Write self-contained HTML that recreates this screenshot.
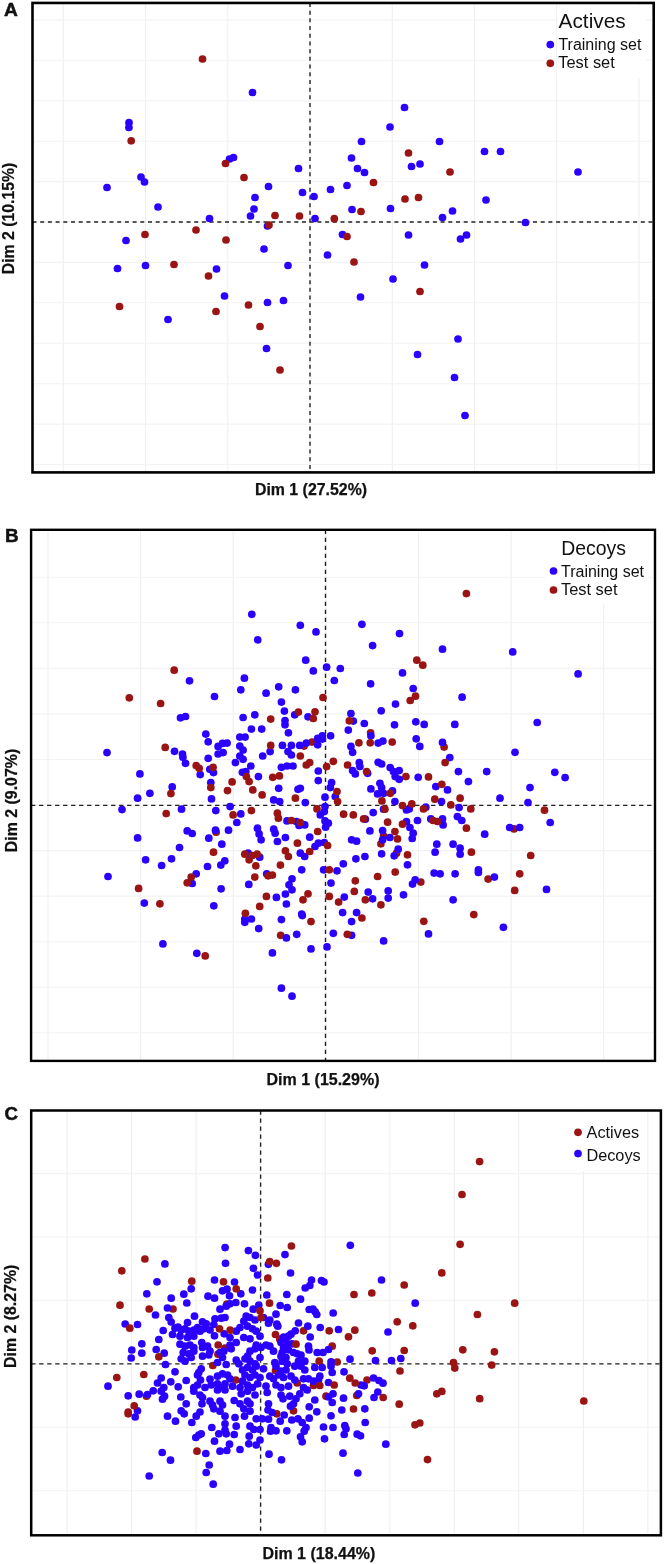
<!DOCTYPE html>
<html><head><meta charset="utf-8"><title>PCA scatter plots</title>
<style>html,body{margin:0;padding:0;background:#fff}svg{display:block}</style></head>
<body>
<svg width="664" height="1564" viewBox="0 0 664 1564">
<rect width="664" height="1564" fill="#fff"/>
<line x1="63.3" y1="2.95" x2="63.3" y2="472.4" stroke="#efefef" stroke-width="1.1"/>
<line x1="145.5" y1="2.95" x2="145.5" y2="472.4" stroke="#efefef" stroke-width="1.1"/>
<line x1="227.8" y1="2.95" x2="227.8" y2="472.4" stroke="#efefef" stroke-width="1.1"/>
<line x1="310.0" y1="2.95" x2="310.0" y2="472.4" stroke="#efefef" stroke-width="1.1"/>
<line x1="392.3" y1="2.95" x2="392.3" y2="472.4" stroke="#efefef" stroke-width="1.1"/>
<line x1="474.5" y1="2.95" x2="474.5" y2="472.4" stroke="#efefef" stroke-width="1.1"/>
<line x1="556.7" y1="2.95" x2="556.7" y2="472.4" stroke="#efefef" stroke-width="1.1"/>
<line x1="639.0" y1="2.95" x2="639.0" y2="472.4" stroke="#efefef" stroke-width="1.1"/>
<line x1="32.5" y1="19.9" x2="653.7" y2="19.9" stroke="#f3f3f3" stroke-width="1.1"/>
<line x1="32.5" y1="60.3" x2="653.7" y2="60.3" stroke="#f3f3f3" stroke-width="1.1"/>
<line x1="32.5" y1="100.7" x2="653.7" y2="100.7" stroke="#f3f3f3" stroke-width="1.1"/>
<line x1="32.5" y1="141.2" x2="653.7" y2="141.2" stroke="#f3f3f3" stroke-width="1.1"/>
<line x1="32.5" y1="181.6" x2="653.7" y2="181.6" stroke="#f3f3f3" stroke-width="1.1"/>
<line x1="32.5" y1="222.0" x2="653.7" y2="222.0" stroke="#f3f3f3" stroke-width="1.1"/>
<line x1="32.5" y1="262.4" x2="653.7" y2="262.4" stroke="#f3f3f3" stroke-width="1.1"/>
<line x1="32.5" y1="302.8" x2="653.7" y2="302.8" stroke="#f3f3f3" stroke-width="1.1"/>
<line x1="32.5" y1="343.3" x2="653.7" y2="343.3" stroke="#f3f3f3" stroke-width="1.1"/>
<line x1="32.5" y1="383.7" x2="653.7" y2="383.7" stroke="#f3f3f3" stroke-width="1.1"/>
<line x1="32.5" y1="424.1" x2="653.7" y2="424.1" stroke="#f3f3f3" stroke-width="1.1"/>
<line x1="32.5" y1="464.5" x2="653.7" y2="464.5" stroke="#f3f3f3" stroke-width="1.1"/>
<line x1="32.5" y1="222" x2="653.7" y2="222" stroke="#222" stroke-width="1.4" stroke-dasharray="4 3.7"/>
<line x1="310" y1="2.95" x2="310" y2="472.4" stroke="#222" stroke-width="1.4" stroke-dasharray="4 3.7"/>
<circle cx="252.5" cy="92.5" r="3.85" fill="#2a00ff"/>
<circle cx="129.0" cy="122.7" r="3.85" fill="#2a00ff"/>
<circle cx="128.9" cy="127.5" r="3.85" fill="#2a00ff"/>
<circle cx="233.5" cy="157.5" r="3.85" fill="#2a00ff"/>
<circle cx="229.5" cy="159.0" r="3.85" fill="#2a00ff"/>
<circle cx="298.5" cy="168.5" r="3.85" fill="#2a00ff"/>
<circle cx="141.0" cy="177.0" r="3.85" fill="#2a00ff"/>
<circle cx="144.5" cy="182.0" r="3.85" fill="#2a00ff"/>
<circle cx="107.0" cy="187.5" r="3.85" fill="#2a00ff"/>
<circle cx="268.5" cy="186.5" r="3.85" fill="#2a00ff"/>
<circle cx="302.5" cy="192.5" r="3.85" fill="#2a00ff"/>
<circle cx="314.0" cy="196.5" r="3.85" fill="#2a00ff"/>
<circle cx="330.5" cy="189.5" r="3.85" fill="#2a00ff"/>
<circle cx="255.0" cy="197.5" r="3.85" fill="#2a00ff"/>
<circle cx="158.0" cy="207.0" r="3.85" fill="#2a00ff"/>
<circle cx="254.0" cy="209.0" r="3.85" fill="#2a00ff"/>
<circle cx="250.5" cy="216.0" r="3.85" fill="#2a00ff"/>
<circle cx="209.5" cy="218.5" r="3.85" fill="#2a00ff"/>
<circle cx="315.0" cy="218.5" r="3.85" fill="#2a00ff"/>
<circle cx="267.5" cy="226.0" r="3.85" fill="#2a00ff"/>
<circle cx="126.0" cy="240.5" r="3.85" fill="#2a00ff"/>
<circle cx="264.0" cy="249.0" r="3.85" fill="#2a00ff"/>
<circle cx="404.5" cy="107.5" r="3.85" fill="#2a00ff"/>
<circle cx="390.0" cy="127.0" r="3.85" fill="#2a00ff"/>
<circle cx="361.5" cy="141.5" r="3.85" fill="#2a00ff"/>
<circle cx="439.5" cy="141.5" r="3.85" fill="#2a00ff"/>
<circle cx="484.5" cy="151.5" r="3.85" fill="#2a00ff"/>
<circle cx="500.5" cy="151.5" r="3.85" fill="#2a00ff"/>
<circle cx="351.5" cy="158.0" r="3.85" fill="#2a00ff"/>
<circle cx="420.0" cy="164.0" r="3.85" fill="#2a00ff"/>
<circle cx="411.5" cy="166.5" r="3.85" fill="#2a00ff"/>
<circle cx="357.5" cy="168.5" r="3.85" fill="#2a00ff"/>
<circle cx="364.5" cy="172.5" r="3.85" fill="#2a00ff"/>
<circle cx="578.0" cy="172.0" r="3.85" fill="#2a00ff"/>
<circle cx="347.0" cy="185.5" r="3.85" fill="#2a00ff"/>
<circle cx="486.0" cy="200.0" r="3.85" fill="#2a00ff"/>
<circle cx="352.0" cy="209.5" r="3.85" fill="#2a00ff"/>
<circle cx="390.5" cy="208.5" r="3.85" fill="#2a00ff"/>
<circle cx="452.5" cy="211.0" r="3.85" fill="#2a00ff"/>
<circle cx="442.5" cy="217.5" r="3.85" fill="#2a00ff"/>
<circle cx="525.5" cy="222.5" r="3.85" fill="#2a00ff"/>
<circle cx="342.5" cy="234.5" r="3.85" fill="#2a00ff"/>
<circle cx="408.5" cy="235.0" r="3.85" fill="#2a00ff"/>
<circle cx="466.5" cy="235.0" r="3.85" fill="#2a00ff"/>
<circle cx="460.5" cy="239.0" r="3.85" fill="#2a00ff"/>
<circle cx="327.5" cy="255.0" r="3.85" fill="#2a00ff"/>
<circle cx="117.5" cy="268.5" r="3.85" fill="#2a00ff"/>
<circle cx="145.5" cy="265.5" r="3.85" fill="#2a00ff"/>
<circle cx="216.5" cy="269.0" r="3.85" fill="#2a00ff"/>
<circle cx="288.0" cy="265.5" r="3.85" fill="#2a00ff"/>
<circle cx="224.5" cy="296.0" r="3.85" fill="#2a00ff"/>
<circle cx="267.5" cy="302.5" r="3.85" fill="#2a00ff"/>
<circle cx="283.5" cy="300.5" r="3.85" fill="#2a00ff"/>
<circle cx="168.0" cy="319.5" r="3.85" fill="#2a00ff"/>
<circle cx="266.5" cy="348.5" r="3.85" fill="#2a00ff"/>
<circle cx="424.5" cy="265.0" r="3.85" fill="#2a00ff"/>
<circle cx="393.0" cy="279.0" r="3.85" fill="#2a00ff"/>
<circle cx="360.5" cy="297.0" r="3.85" fill="#2a00ff"/>
<circle cx="458.0" cy="339.0" r="3.85" fill="#2a00ff"/>
<circle cx="417.5" cy="354.5" r="3.85" fill="#2a00ff"/>
<circle cx="454.5" cy="377.5" r="3.85" fill="#2a00ff"/>
<circle cx="465.0" cy="415.5" r="3.85" fill="#2a00ff"/>
<circle cx="202.5" cy="59.0" r="3.85" fill="#9b1414"/>
<circle cx="131.2" cy="140.8" r="3.85" fill="#9b1414"/>
<circle cx="225.5" cy="163.5" r="3.85" fill="#9b1414"/>
<circle cx="244.0" cy="177.5" r="3.85" fill="#9b1414"/>
<circle cx="275.0" cy="215.5" r="3.85" fill="#9b1414"/>
<circle cx="299.5" cy="216.0" r="3.85" fill="#9b1414"/>
<circle cx="269.0" cy="225.0" r="3.85" fill="#9b1414"/>
<circle cx="145.0" cy="234.5" r="3.85" fill="#9b1414"/>
<circle cx="196.0" cy="230.0" r="3.85" fill="#9b1414"/>
<circle cx="226.0" cy="240.0" r="3.85" fill="#9b1414"/>
<circle cx="334.3" cy="218.7" r="3.85" fill="#9b1414"/>
<circle cx="408.5" cy="153.0" r="3.85" fill="#9b1414"/>
<circle cx="450.0" cy="172.0" r="3.85" fill="#9b1414"/>
<circle cx="373.5" cy="182.5" r="3.85" fill="#9b1414"/>
<circle cx="405.0" cy="199.0" r="3.85" fill="#9b1414"/>
<circle cx="418.5" cy="197.5" r="3.85" fill="#9b1414"/>
<circle cx="361.0" cy="211.5" r="3.85" fill="#9b1414"/>
<circle cx="347.0" cy="236.5" r="3.85" fill="#9b1414"/>
<circle cx="174.0" cy="264.5" r="3.85" fill="#9b1414"/>
<circle cx="208.5" cy="276.0" r="3.85" fill="#9b1414"/>
<circle cx="119.5" cy="306.5" r="3.85" fill="#9b1414"/>
<circle cx="216.0" cy="311.5" r="3.85" fill="#9b1414"/>
<circle cx="248.5" cy="305.0" r="3.85" fill="#9b1414"/>
<circle cx="260.0" cy="326.5" r="3.85" fill="#9b1414"/>
<circle cx="280.0" cy="370.0" r="3.85" fill="#9b1414"/>
<circle cx="354.0" cy="262.0" r="3.85" fill="#9b1414"/>
<circle cx="420.0" cy="291.5" r="3.85" fill="#9b1414"/>
<rect x="557.5" y="5.5" width="88" height="73" fill="#fff"/>
<rect x="32.5" y="2.95" width="621.2" height="469.45" fill="none" stroke="#000" stroke-width="2.6"/>
<line x1="48.0" y1="529.8" x2="48.0" y2="1060.9" stroke="#efefef" stroke-width="1.1"/>
<line x1="140.6" y1="529.8" x2="140.6" y2="1060.9" stroke="#efefef" stroke-width="1.1"/>
<line x1="233.2" y1="529.8" x2="233.2" y2="1060.9" stroke="#efefef" stroke-width="1.1"/>
<line x1="325.9" y1="529.8" x2="325.9" y2="1060.9" stroke="#efefef" stroke-width="1.1"/>
<line x1="418.5" y1="529.8" x2="418.5" y2="1060.9" stroke="#efefef" stroke-width="1.1"/>
<line x1="511.1" y1="529.8" x2="511.1" y2="1060.9" stroke="#efefef" stroke-width="1.1"/>
<line x1="603.7" y1="529.8" x2="603.7" y2="1060.9" stroke="#efefef" stroke-width="1.1"/>
<line x1="31.1" y1="577.3" x2="655.0" y2="577.3" stroke="#f3f3f3" stroke-width="1.1"/>
<line x1="31.1" y1="622.8" x2="655.0" y2="622.8" stroke="#f3f3f3" stroke-width="1.1"/>
<line x1="31.1" y1="668.4" x2="655.0" y2="668.4" stroke="#f3f3f3" stroke-width="1.1"/>
<line x1="31.1" y1="713.9" x2="655.0" y2="713.9" stroke="#f3f3f3" stroke-width="1.1"/>
<line x1="31.1" y1="759.5" x2="655.0" y2="759.5" stroke="#f3f3f3" stroke-width="1.1"/>
<line x1="31.1" y1="805.0" x2="655.0" y2="805.0" stroke="#f3f3f3" stroke-width="1.1"/>
<line x1="31.1" y1="850.6" x2="655.0" y2="850.6" stroke="#f3f3f3" stroke-width="1.1"/>
<line x1="31.1" y1="896.1" x2="655.0" y2="896.1" stroke="#f3f3f3" stroke-width="1.1"/>
<line x1="31.1" y1="941.7" x2="655.0" y2="941.7" stroke="#f3f3f3" stroke-width="1.1"/>
<line x1="31.1" y1="987.2" x2="655.0" y2="987.2" stroke="#f3f3f3" stroke-width="1.1"/>
<line x1="31.1" y1="1032.8" x2="655.0" y2="1032.8" stroke="#f3f3f3" stroke-width="1.1"/>
<line x1="31.1" y1="805.4" x2="655.0" y2="805.4" stroke="#222" stroke-width="1.4" stroke-dasharray="4.3 3.7"/>
<line x1="325.5" y1="529.8" x2="325.5" y2="1060.9" stroke="#222" stroke-width="1.4" stroke-dasharray="4.3 3.7"/>
<circle cx="129.3" cy="697.8" r="3.85" fill="#9b1414"/>
<circle cx="160.6" cy="703.5" r="3.85" fill="#9b1414"/>
<circle cx="304.0" cy="746.1" r="3.85" fill="#9b1414"/>
<circle cx="422.8" cy="665.2" r="3.85" fill="#9b1414"/>
<circle cx="415.5" cy="696.2" r="3.85" fill="#9b1414"/>
<circle cx="370.6" cy="732.8" r="3.85" fill="#9b1414"/>
<circle cx="312.0" cy="742.1" r="3.85" fill="#9b1414"/>
<circle cx="444.1" cy="747.1" r="3.85" fill="#9b1414"/>
<circle cx="216.1" cy="832.2" r="3.85" fill="#9b1414"/>
<circle cx="252.8" cy="789.9" r="3.85" fill="#9b1414"/>
<circle cx="262.1" cy="794.9" r="3.85" fill="#9b1414"/>
<circle cx="249.1" cy="859.8" r="3.85" fill="#9b1414"/>
<circle cx="254.8" cy="877.1" r="3.85" fill="#9b1414"/>
<circle cx="300.3" cy="756.0" r="3.85" fill="#9b1414"/>
<circle cx="306.3" cy="765.0" r="3.85" fill="#9b1414"/>
<circle cx="277.4" cy="813.2" r="3.85" fill="#9b1414"/>
<circle cx="308.0" cy="893.8" r="3.85" fill="#9b1414"/>
<circle cx="317.0" cy="808.9" r="3.85" fill="#9b1414"/>
<circle cx="338.6" cy="902.1" r="3.85" fill="#9b1414"/>
<circle cx="343.6" cy="814.2" r="3.85" fill="#9b1414"/>
<circle cx="347.6" cy="765.0" r="3.85" fill="#9b1414"/>
<circle cx="381.9" cy="800.9" r="3.85" fill="#9b1414"/>
<circle cx="383.6" cy="835.9" r="3.85" fill="#9b1414"/>
<circle cx="380.9" cy="843.8" r="3.85" fill="#9b1414"/>
<circle cx="396.5" cy="853.2" r="3.85" fill="#9b1414"/>
<circle cx="407.5" cy="854.8" r="3.85" fill="#9b1414"/>
<circle cx="377.6" cy="876.5" r="3.85" fill="#9b1414"/>
<circle cx="405.9" cy="776.6" r="3.85" fill="#9b1414"/>
<circle cx="471.4" cy="852.2" r="3.85" fill="#9b1414"/>
<circle cx="420.8" cy="882.1" r="3.85" fill="#9b1414"/>
<circle cx="488.1" cy="879.1" r="3.85" fill="#9b1414"/>
<circle cx="514.0" cy="828.9" r="3.85" fill="#9b1414"/>
<circle cx="514.7" cy="890.4" r="3.85" fill="#9b1414"/>
<circle cx="280.7" cy="935.3" r="3.85" fill="#9b1414"/>
<circle cx="251.8" cy="614.3" r="3.85" fill="#2a00ff"/>
<circle cx="300.3" cy="625.3" r="3.85" fill="#2a00ff"/>
<circle cx="257.7" cy="639.9" r="3.85" fill="#2a00ff"/>
<circle cx="305.7" cy="660.2" r="3.85" fill="#2a00ff"/>
<circle cx="189.5" cy="680.8" r="3.85" fill="#2a00ff"/>
<circle cx="244.4" cy="678.2" r="3.85" fill="#2a00ff"/>
<circle cx="240.8" cy="689.8" r="3.85" fill="#2a00ff"/>
<circle cx="278.7" cy="686.8" r="3.85" fill="#2a00ff"/>
<circle cx="295.4" cy="689.8" r="3.85" fill="#2a00ff"/>
<circle cx="266.1" cy="693.2" r="3.85" fill="#2a00ff"/>
<circle cx="214.5" cy="696.5" r="3.85" fill="#2a00ff"/>
<circle cx="281.4" cy="702.1" r="3.85" fill="#2a00ff"/>
<circle cx="284.4" cy="711.1" r="3.85" fill="#2a00ff"/>
<circle cx="294.7" cy="714.8" r="3.85" fill="#2a00ff"/>
<circle cx="308.0" cy="716.8" r="3.85" fill="#2a00ff"/>
<circle cx="180.5" cy="717.8" r="3.85" fill="#2a00ff"/>
<circle cx="185.5" cy="716.5" r="3.85" fill="#2a00ff"/>
<circle cx="243.1" cy="717.5" r="3.85" fill="#2a00ff"/>
<circle cx="254.8" cy="714.8" r="3.85" fill="#2a00ff"/>
<circle cx="285.0" cy="720.5" r="3.85" fill="#2a00ff"/>
<circle cx="285.0" cy="724.8" r="3.85" fill="#2a00ff"/>
<circle cx="251.4" cy="729.1" r="3.85" fill="#2a00ff"/>
<circle cx="261.7" cy="729.1" r="3.85" fill="#2a00ff"/>
<circle cx="288.4" cy="732.8" r="3.85" fill="#2a00ff"/>
<circle cx="205.8" cy="734.1" r="3.85" fill="#2a00ff"/>
<circle cx="208.2" cy="741.8" r="3.85" fill="#2a00ff"/>
<circle cx="239.8" cy="737.1" r="3.85" fill="#2a00ff"/>
<circle cx="245.1" cy="737.1" r="3.85" fill="#2a00ff"/>
<circle cx="222.5" cy="743.4" r="3.85" fill="#2a00ff"/>
<circle cx="227.1" cy="743.1" r="3.85" fill="#2a00ff"/>
<circle cx="218.1" cy="746.4" r="3.85" fill="#2a00ff"/>
<circle cx="239.8" cy="746.1" r="3.85" fill="#2a00ff"/>
<circle cx="282.4" cy="745.4" r="3.85" fill="#2a00ff"/>
<circle cx="291.4" cy="745.4" r="3.85" fill="#2a00ff"/>
<circle cx="299.7" cy="745.4" r="3.85" fill="#2a00ff"/>
<circle cx="306.3" cy="743.1" r="3.85" fill="#2a00ff"/>
<circle cx="316.0" cy="631.9" r="3.85" fill="#2a00ff"/>
<circle cx="361.9" cy="624.3" r="3.85" fill="#2a00ff"/>
<circle cx="399.5" cy="633.6" r="3.85" fill="#2a00ff"/>
<circle cx="372.6" cy="645.6" r="3.85" fill="#2a00ff"/>
<circle cx="442.5" cy="649.2" r="3.85" fill="#2a00ff"/>
<circle cx="512.7" cy="651.9" r="3.85" fill="#2a00ff"/>
<circle cx="326.6" cy="667.2" r="3.85" fill="#2a00ff"/>
<circle cx="340.3" cy="668.5" r="3.85" fill="#2a00ff"/>
<circle cx="313.3" cy="670.9" r="3.85" fill="#2a00ff"/>
<circle cx="402.5" cy="672.9" r="3.85" fill="#2a00ff"/>
<circle cx="334.3" cy="680.5" r="3.85" fill="#2a00ff"/>
<circle cx="370.6" cy="683.8" r="3.85" fill="#2a00ff"/>
<circle cx="413.2" cy="688.5" r="3.85" fill="#2a00ff"/>
<circle cx="462.1" cy="697.2" r="3.85" fill="#2a00ff"/>
<circle cx="395.5" cy="704.1" r="3.85" fill="#2a00ff"/>
<circle cx="381.2" cy="710.8" r="3.85" fill="#2a00ff"/>
<circle cx="350.9" cy="713.5" r="3.85" fill="#2a00ff"/>
<circle cx="353.3" cy="721.1" r="3.85" fill="#2a00ff"/>
<circle cx="364.3" cy="723.5" r="3.85" fill="#2a00ff"/>
<circle cx="394.5" cy="724.8" r="3.85" fill="#2a00ff"/>
<circle cx="415.8" cy="721.8" r="3.85" fill="#2a00ff"/>
<circle cx="424.2" cy="724.4" r="3.85" fill="#2a00ff"/>
<circle cx="454.8" cy="724.4" r="3.85" fill="#2a00ff"/>
<circle cx="348.3" cy="730.1" r="3.85" fill="#2a00ff"/>
<circle cx="370.9" cy="735.8" r="3.85" fill="#2a00ff"/>
<circle cx="330.6" cy="735.8" r="3.85" fill="#2a00ff"/>
<circle cx="322.3" cy="735.8" r="3.85" fill="#2a00ff"/>
<circle cx="317.7" cy="738.4" r="3.85" fill="#2a00ff"/>
<circle cx="322.3" cy="739.1" r="3.85" fill="#2a00ff"/>
<circle cx="317.7" cy="744.8" r="3.85" fill="#2a00ff"/>
<circle cx="416.2" cy="738.8" r="3.85" fill="#2a00ff"/>
<circle cx="382.9" cy="741.1" r="3.85" fill="#2a00ff"/>
<circle cx="378.2" cy="743.1" r="3.85" fill="#2a00ff"/>
<circle cx="442.5" cy="742.4" r="3.85" fill="#2a00ff"/>
<circle cx="419.8" cy="746.4" r="3.85" fill="#2a00ff"/>
<circle cx="350.9" cy="746.4" r="3.85" fill="#2a00ff"/>
<circle cx="578.1" cy="673.9" r="3.85" fill="#2a00ff"/>
<circle cx="537.2" cy="722.5" r="3.85" fill="#2a00ff"/>
<circle cx="107.0" cy="752.6" r="3.85" fill="#2a00ff"/>
<circle cx="139.9" cy="773.9" r="3.85" fill="#2a00ff"/>
<circle cx="149.9" cy="793.3" r="3.85" fill="#2a00ff"/>
<circle cx="137.6" cy="798.2" r="3.85" fill="#2a00ff"/>
<circle cx="122.0" cy="809.6" r="3.85" fill="#2a00ff"/>
<circle cx="137.6" cy="837.9" r="3.85" fill="#2a00ff"/>
<circle cx="145.6" cy="859.8" r="3.85" fill="#2a00ff"/>
<circle cx="108.0" cy="876.5" r="3.85" fill="#2a00ff"/>
<circle cx="144.3" cy="903.1" r="3.85" fill="#2a00ff"/>
<circle cx="174.5" cy="751.3" r="3.85" fill="#2a00ff"/>
<circle cx="182.5" cy="754.0" r="3.85" fill="#2a00ff"/>
<circle cx="182.9" cy="757.3" r="3.85" fill="#2a00ff"/>
<circle cx="185.5" cy="763.3" r="3.85" fill="#2a00ff"/>
<circle cx="172.2" cy="786.9" r="3.85" fill="#2a00ff"/>
<circle cx="181.5" cy="809.2" r="3.85" fill="#2a00ff"/>
<circle cx="187.2" cy="830.9" r="3.85" fill="#2a00ff"/>
<circle cx="192.2" cy="833.5" r="3.85" fill="#2a00ff"/>
<circle cx="179.5" cy="847.5" r="3.85" fill="#2a00ff"/>
<circle cx="171.5" cy="858.8" r="3.85" fill="#2a00ff"/>
<circle cx="161.6" cy="865.5" r="3.85" fill="#2a00ff"/>
<circle cx="192.2" cy="883.5" r="3.85" fill="#2a00ff"/>
<circle cx="196.2" cy="873.8" r="3.85" fill="#2a00ff"/>
<circle cx="208.2" cy="758.3" r="3.85" fill="#2a00ff"/>
<circle cx="218.1" cy="754.0" r="3.85" fill="#2a00ff"/>
<circle cx="223.1" cy="752.6" r="3.85" fill="#2a00ff"/>
<circle cx="200.2" cy="774.6" r="3.85" fill="#2a00ff"/>
<circle cx="209.8" cy="769.3" r="3.85" fill="#2a00ff"/>
<circle cx="213.5" cy="772.6" r="3.85" fill="#2a00ff"/>
<circle cx="210.8" cy="782.6" r="3.85" fill="#2a00ff"/>
<circle cx="211.5" cy="798.9" r="3.85" fill="#2a00ff"/>
<circle cx="215.8" cy="810.6" r="3.85" fill="#2a00ff"/>
<circle cx="215.5" cy="830.2" r="3.85" fill="#2a00ff"/>
<circle cx="208.8" cy="838.2" r="3.85" fill="#2a00ff"/>
<circle cx="221.8" cy="844.2" r="3.85" fill="#2a00ff"/>
<circle cx="207.5" cy="866.5" r="3.85" fill="#2a00ff"/>
<circle cx="220.8" cy="865.1" r="3.85" fill="#2a00ff"/>
<circle cx="224.8" cy="860.8" r="3.85" fill="#2a00ff"/>
<circle cx="221.1" cy="888.8" r="3.85" fill="#2a00ff"/>
<circle cx="213.8" cy="905.8" r="3.85" fill="#2a00ff"/>
<circle cx="243.1" cy="750.0" r="3.85" fill="#2a00ff"/>
<circle cx="239.8" cy="756.0" r="3.85" fill="#2a00ff"/>
<circle cx="243.1" cy="759.3" r="3.85" fill="#2a00ff"/>
<circle cx="235.4" cy="762.6" r="3.85" fill="#2a00ff"/>
<circle cx="250.8" cy="766.0" r="3.85" fill="#2a00ff"/>
<circle cx="242.4" cy="772.3" r="3.85" fill="#2a00ff"/>
<circle cx="245.8" cy="771.6" r="3.85" fill="#2a00ff"/>
<circle cx="258.4" cy="776.6" r="3.85" fill="#2a00ff"/>
<circle cx="230.1" cy="806.6" r="3.85" fill="#2a00ff"/>
<circle cx="240.8" cy="813.9" r="3.85" fill="#2a00ff"/>
<circle cx="236.8" cy="822.5" r="3.85" fill="#2a00ff"/>
<circle cx="228.5" cy="830.2" r="3.85" fill="#2a00ff"/>
<circle cx="257.4" cy="828.2" r="3.85" fill="#2a00ff"/>
<circle cx="259.1" cy="833.9" r="3.85" fill="#2a00ff"/>
<circle cx="261.1" cy="839.8" r="3.85" fill="#2a00ff"/>
<circle cx="259.7" cy="857.2" r="3.85" fill="#2a00ff"/>
<circle cx="248.8" cy="884.4" r="3.85" fill="#2a00ff"/>
<circle cx="262.7" cy="756.0" r="3.85" fill="#2a00ff"/>
<circle cx="270.1" cy="751.6" r="3.85" fill="#2a00ff"/>
<circle cx="288.0" cy="751.6" r="3.85" fill="#2a00ff"/>
<circle cx="291.4" cy="755.0" r="3.85" fill="#2a00ff"/>
<circle cx="281.4" cy="767.3" r="3.85" fill="#2a00ff"/>
<circle cx="287.0" cy="766.0" r="3.85" fill="#2a00ff"/>
<circle cx="293.0" cy="766.0" r="3.85" fill="#2a00ff"/>
<circle cx="278.7" cy="788.3" r="3.85" fill="#2a00ff"/>
<circle cx="273.7" cy="799.9" r="3.85" fill="#2a00ff"/>
<circle cx="279.7" cy="801.6" r="3.85" fill="#2a00ff"/>
<circle cx="298.0" cy="789.3" r="3.85" fill="#2a00ff"/>
<circle cx="300.3" cy="788.3" r="3.85" fill="#2a00ff"/>
<circle cx="305.3" cy="802.6" r="3.85" fill="#2a00ff"/>
<circle cx="273.7" cy="829.2" r="3.85" fill="#2a00ff"/>
<circle cx="275.1" cy="833.2" r="3.85" fill="#2a00ff"/>
<circle cx="277.4" cy="841.5" r="3.85" fill="#2a00ff"/>
<circle cx="285.4" cy="837.5" r="3.85" fill="#2a00ff"/>
<circle cx="287.0" cy="820.9" r="3.85" fill="#2a00ff"/>
<circle cx="296.4" cy="821.5" r="3.85" fill="#2a00ff"/>
<circle cx="299.0" cy="825.5" r="3.85" fill="#2a00ff"/>
<circle cx="304.7" cy="824.9" r="3.85" fill="#2a00ff"/>
<circle cx="309.7" cy="837.2" r="3.85" fill="#2a00ff"/>
<circle cx="300.3" cy="853.2" r="3.85" fill="#2a00ff"/>
<circle cx="304.7" cy="856.5" r="3.85" fill="#2a00ff"/>
<circle cx="301.7" cy="869.8" r="3.85" fill="#2a00ff"/>
<circle cx="292.0" cy="878.8" r="3.85" fill="#2a00ff"/>
<circle cx="289.0" cy="884.8" r="3.85" fill="#2a00ff"/>
<circle cx="292.0" cy="889.8" r="3.85" fill="#2a00ff"/>
<circle cx="285.4" cy="894.1" r="3.85" fill="#2a00ff"/>
<circle cx="276.4" cy="897.4" r="3.85" fill="#2a00ff"/>
<circle cx="266.7" cy="873.8" r="3.85" fill="#2a00ff"/>
<circle cx="248.1" cy="853.2" r="3.85" fill="#2a00ff"/>
<circle cx="318.3" cy="771.0" r="3.85" fill="#2a00ff"/>
<circle cx="318.3" cy="780.6" r="3.85" fill="#2a00ff"/>
<circle cx="331.6" cy="782.6" r="3.85" fill="#2a00ff"/>
<circle cx="330.3" cy="787.6" r="3.85" fill="#2a00ff"/>
<circle cx="325.0" cy="797.2" r="3.85" fill="#2a00ff"/>
<circle cx="335.3" cy="796.6" r="3.85" fill="#2a00ff"/>
<circle cx="325.0" cy="806.6" r="3.85" fill="#2a00ff"/>
<circle cx="324.3" cy="811.6" r="3.85" fill="#2a00ff"/>
<circle cx="320.3" cy="814.9" r="3.85" fill="#2a00ff"/>
<circle cx="325.0" cy="820.9" r="3.85" fill="#2a00ff"/>
<circle cx="328.3" cy="823.2" r="3.85" fill="#2a00ff"/>
<circle cx="325.6" cy="827.2" r="3.85" fill="#2a00ff"/>
<circle cx="318.3" cy="843.2" r="3.85" fill="#2a00ff"/>
<circle cx="315.0" cy="846.5" r="3.85" fill="#2a00ff"/>
<circle cx="324.3" cy="842.5" r="3.85" fill="#2a00ff"/>
<circle cx="323.6" cy="869.8" r="3.85" fill="#2a00ff"/>
<circle cx="331.0" cy="883.1" r="3.85" fill="#2a00ff"/>
<circle cx="337.0" cy="870.8" r="3.85" fill="#2a00ff"/>
<circle cx="343.3" cy="863.8" r="3.85" fill="#2a00ff"/>
<circle cx="344.3" cy="897.1" r="3.85" fill="#2a00ff"/>
<circle cx="352.6" cy="752.3" r="3.85" fill="#2a00ff"/>
<circle cx="359.3" cy="762.6" r="3.85" fill="#2a00ff"/>
<circle cx="359.9" cy="766.6" r="3.85" fill="#2a00ff"/>
<circle cx="352.6" cy="770.6" r="3.85" fill="#2a00ff"/>
<circle cx="355.3" cy="773.9" r="3.85" fill="#2a00ff"/>
<circle cx="367.6" cy="773.3" r="3.85" fill="#2a00ff"/>
<circle cx="351.6" cy="839.8" r="3.85" fill="#2a00ff"/>
<circle cx="356.6" cy="841.2" r="3.85" fill="#2a00ff"/>
<circle cx="355.9" cy="858.8" r="3.85" fill="#2a00ff"/>
<circle cx="364.9" cy="856.5" r="3.85" fill="#2a00ff"/>
<circle cx="369.9" cy="830.9" r="3.85" fill="#2a00ff"/>
<circle cx="373.2" cy="812.6" r="3.85" fill="#2a00ff"/>
<circle cx="365.3" cy="819.2" r="3.85" fill="#2a00ff"/>
<circle cx="370.9" cy="788.9" r="3.85" fill="#2a00ff"/>
<circle cx="378.2" cy="762.3" r="3.85" fill="#2a00ff"/>
<circle cx="381.6" cy="764.0" r="3.85" fill="#2a00ff"/>
<circle cx="379.9" cy="783.3" r="3.85" fill="#2a00ff"/>
<circle cx="381.6" cy="787.6" r="3.85" fill="#2a00ff"/>
<circle cx="377.6" cy="793.9" r="3.85" fill="#2a00ff"/>
<circle cx="383.6" cy="793.3" r="3.85" fill="#2a00ff"/>
<circle cx="390.2" cy="767.6" r="3.85" fill="#2a00ff"/>
<circle cx="393.5" cy="771.6" r="3.85" fill="#2a00ff"/>
<circle cx="399.2" cy="770.6" r="3.85" fill="#2a00ff"/>
<circle cx="395.2" cy="776.6" r="3.85" fill="#2a00ff"/>
<circle cx="399.2" cy="779.3" r="3.85" fill="#2a00ff"/>
<circle cx="392.5" cy="790.9" r="3.85" fill="#2a00ff"/>
<circle cx="394.9" cy="801.6" r="3.85" fill="#2a00ff"/>
<circle cx="383.6" cy="809.2" r="3.85" fill="#2a00ff"/>
<circle cx="382.6" cy="830.5" r="3.85" fill="#2a00ff"/>
<circle cx="382.6" cy="839.8" r="3.85" fill="#2a00ff"/>
<circle cx="389.9" cy="837.5" r="3.85" fill="#2a00ff"/>
<circle cx="381.6" cy="853.8" r="3.85" fill="#2a00ff"/>
<circle cx="394.2" cy="855.8" r="3.85" fill="#2a00ff"/>
<circle cx="398.2" cy="849.2" r="3.85" fill="#2a00ff"/>
<circle cx="368.2" cy="892.1" r="3.85" fill="#2a00ff"/>
<circle cx="372.6" cy="898.8" r="3.85" fill="#2a00ff"/>
<circle cx="388.2" cy="890.8" r="3.85" fill="#2a00ff"/>
<circle cx="388.2" cy="898.1" r="3.85" fill="#2a00ff"/>
<circle cx="403.5" cy="894.8" r="3.85" fill="#2a00ff"/>
<circle cx="407.5" cy="864.8" r="3.85" fill="#2a00ff"/>
<circle cx="406.5" cy="809.9" r="3.85" fill="#2a00ff"/>
<circle cx="409.2" cy="808.9" r="3.85" fill="#2a00ff"/>
<circle cx="406.5" cy="821.5" r="3.85" fill="#2a00ff"/>
<circle cx="409.9" cy="827.5" r="3.85" fill="#2a00ff"/>
<circle cx="413.2" cy="833.2" r="3.85" fill="#2a00ff"/>
<circle cx="412.2" cy="838.5" r="3.85" fill="#2a00ff"/>
<circle cx="417.5" cy="820.5" r="3.85" fill="#2a00ff"/>
<circle cx="418.2" cy="777.3" r="3.85" fill="#2a00ff"/>
<circle cx="425.8" cy="807.2" r="3.85" fill="#2a00ff"/>
<circle cx="430.8" cy="818.9" r="3.85" fill="#2a00ff"/>
<circle cx="435.8" cy="786.6" r="3.85" fill="#2a00ff"/>
<circle cx="441.5" cy="801.6" r="3.85" fill="#2a00ff"/>
<circle cx="447.5" cy="789.9" r="3.85" fill="#2a00ff"/>
<circle cx="449.8" cy="757.6" r="3.85" fill="#2a00ff"/>
<circle cx="458.4" cy="771.6" r="3.85" fill="#2a00ff"/>
<circle cx="468.4" cy="781.6" r="3.85" fill="#2a00ff"/>
<circle cx="486.7" cy="771.6" r="3.85" fill="#2a00ff"/>
<circle cx="515.0" cy="752.3" r="3.85" fill="#2a00ff"/>
<circle cx="530.0" cy="787.6" r="3.85" fill="#2a00ff"/>
<circle cx="500.0" cy="798.2" r="3.85" fill="#2a00ff"/>
<circle cx="528.0" cy="802.6" r="3.85" fill="#2a00ff"/>
<circle cx="459.1" cy="807.6" r="3.85" fill="#2a00ff"/>
<circle cx="457.4" cy="816.6" r="3.85" fill="#2a00ff"/>
<circle cx="461.8" cy="820.5" r="3.85" fill="#2a00ff"/>
<circle cx="442.5" cy="818.9" r="3.85" fill="#2a00ff"/>
<circle cx="443.1" cy="824.9" r="3.85" fill="#2a00ff"/>
<circle cx="436.8" cy="844.2" r="3.85" fill="#2a00ff"/>
<circle cx="435.1" cy="852.2" r="3.85" fill="#2a00ff"/>
<circle cx="453.1" cy="844.2" r="3.85" fill="#2a00ff"/>
<circle cx="460.1" cy="848.2" r="3.85" fill="#2a00ff"/>
<circle cx="460.1" cy="854.2" r="3.85" fill="#2a00ff"/>
<circle cx="434.1" cy="873.1" r="3.85" fill="#2a00ff"/>
<circle cx="440.1" cy="873.8" r="3.85" fill="#2a00ff"/>
<circle cx="455.1" cy="873.8" r="3.85" fill="#2a00ff"/>
<circle cx="478.4" cy="869.8" r="3.85" fill="#2a00ff"/>
<circle cx="478.4" cy="872.5" r="3.85" fill="#2a00ff"/>
<circle cx="494.4" cy="877.1" r="3.85" fill="#2a00ff"/>
<circle cx="484.7" cy="834.2" r="3.85" fill="#2a00ff"/>
<circle cx="509.7" cy="827.5" r="3.85" fill="#2a00ff"/>
<circle cx="519.7" cy="827.5" r="3.85" fill="#2a00ff"/>
<circle cx="453.1" cy="899.8" r="3.85" fill="#2a00ff"/>
<circle cx="415.2" cy="879.8" r="3.85" fill="#2a00ff"/>
<circle cx="412.5" cy="884.1" r="3.85" fill="#2a00ff"/>
<circle cx="554.8" cy="772.3" r="3.85" fill="#2a00ff"/>
<circle cx="565.1" cy="777.6" r="3.85" fill="#2a00ff"/>
<circle cx="550.2" cy="822.5" r="3.85" fill="#2a00ff"/>
<circle cx="546.5" cy="889.4" r="3.85" fill="#2a00ff"/>
<circle cx="162.9" cy="943.9" r="3.85" fill="#2a00ff"/>
<circle cx="196.8" cy="953.3" r="3.85" fill="#2a00ff"/>
<circle cx="244.8" cy="919.0" r="3.85" fill="#2a00ff"/>
<circle cx="244.8" cy="922.3" r="3.85" fill="#2a00ff"/>
<circle cx="251.4" cy="919.0" r="3.85" fill="#2a00ff"/>
<circle cx="258.7" cy="928.6" r="3.85" fill="#2a00ff"/>
<circle cx="272.4" cy="952.9" r="3.85" fill="#2a00ff"/>
<circle cx="281.4" cy="919.6" r="3.85" fill="#2a00ff"/>
<circle cx="286.4" cy="904.0" r="3.85" fill="#2a00ff"/>
<circle cx="301.7" cy="914.0" r="3.85" fill="#2a00ff"/>
<circle cx="302.3" cy="915.6" r="3.85" fill="#2a00ff"/>
<circle cx="286.4" cy="937.9" r="3.85" fill="#2a00ff"/>
<circle cx="296.7" cy="934.3" r="3.85" fill="#2a00ff"/>
<circle cx="311.0" cy="948.9" r="3.85" fill="#2a00ff"/>
<circle cx="281.4" cy="988.2" r="3.85" fill="#2a00ff"/>
<circle cx="292.0" cy="996.2" r="3.85" fill="#2a00ff"/>
<circle cx="342.6" cy="912.6" r="3.85" fill="#2a00ff"/>
<circle cx="356.6" cy="912.6" r="3.85" fill="#2a00ff"/>
<circle cx="351.6" cy="921.6" r="3.85" fill="#2a00ff"/>
<circle cx="333.3" cy="933.3" r="3.85" fill="#2a00ff"/>
<circle cx="351.6" cy="935.3" r="3.85" fill="#2a00ff"/>
<circle cx="327.0" cy="946.9" r="3.85" fill="#2a00ff"/>
<circle cx="383.6" cy="940.9" r="3.85" fill="#2a00ff"/>
<circle cx="428.5" cy="933.9" r="3.85" fill="#2a00ff"/>
<circle cx="503.4" cy="927.3" r="3.85" fill="#2a00ff"/>
<circle cx="174.2" cy="670.2" r="3.85" fill="#9b1414"/>
<circle cx="298.4" cy="712.1" r="3.85" fill="#9b1414"/>
<circle cx="270.7" cy="719.1" r="3.85" fill="#9b1414"/>
<circle cx="165.2" cy="747.4" r="3.85" fill="#9b1414"/>
<circle cx="270.7" cy="745.4" r="3.85" fill="#9b1414"/>
<circle cx="466.4" cy="593.6" r="3.85" fill="#9b1414"/>
<circle cx="416.8" cy="660.2" r="3.85" fill="#9b1414"/>
<circle cx="323.0" cy="697.5" r="3.85" fill="#9b1414"/>
<circle cx="410.2" cy="700.5" r="3.85" fill="#9b1414"/>
<circle cx="315.0" cy="711.8" r="3.85" fill="#9b1414"/>
<circle cx="313.3" cy="718.5" r="3.85" fill="#9b1414"/>
<circle cx="349.3" cy="720.8" r="3.85" fill="#9b1414"/>
<circle cx="358.9" cy="742.8" r="3.85" fill="#9b1414"/>
<circle cx="370.2" cy="742.8" r="3.85" fill="#9b1414"/>
<circle cx="392.2" cy="742.1" r="3.85" fill="#9b1414"/>
<circle cx="196.2" cy="765.6" r="3.85" fill="#9b1414"/>
<circle cx="199.2" cy="768.3" r="3.85" fill="#9b1414"/>
<circle cx="213.1" cy="767.3" r="3.85" fill="#9b1414"/>
<circle cx="170.9" cy="793.6" r="3.85" fill="#9b1414"/>
<circle cx="166.2" cy="813.6" r="3.85" fill="#9b1414"/>
<circle cx="138.6" cy="888.4" r="3.85" fill="#9b1414"/>
<circle cx="159.9" cy="903.8" r="3.85" fill="#9b1414"/>
<circle cx="187.2" cy="882.8" r="3.85" fill="#9b1414"/>
<circle cx="191.2" cy="877.1" r="3.85" fill="#9b1414"/>
<circle cx="210.8" cy="787.6" r="3.85" fill="#9b1414"/>
<circle cx="227.5" cy="790.6" r="3.85" fill="#9b1414"/>
<circle cx="232.1" cy="781.9" r="3.85" fill="#9b1414"/>
<circle cx="233.1" cy="814.9" r="3.85" fill="#9b1414"/>
<circle cx="213.5" cy="852.2" r="3.85" fill="#9b1414"/>
<circle cx="246.4" cy="776.6" r="3.85" fill="#9b1414"/>
<circle cx="249.1" cy="781.6" r="3.85" fill="#9b1414"/>
<circle cx="251.4" cy="810.6" r="3.85" fill="#9b1414"/>
<circle cx="244.8" cy="854.2" r="3.85" fill="#9b1414"/>
<circle cx="252.4" cy="855.5" r="3.85" fill="#9b1414"/>
<circle cx="257.1" cy="854.2" r="3.85" fill="#9b1414"/>
<circle cx="255.8" cy="865.8" r="3.85" fill="#9b1414"/>
<circle cx="268.1" cy="875.8" r="3.85" fill="#9b1414"/>
<circle cx="272.4" cy="875.1" r="3.85" fill="#9b1414"/>
<circle cx="266.4" cy="896.4" r="3.85" fill="#9b1414"/>
<circle cx="309.7" cy="762.6" r="3.85" fill="#9b1414"/>
<circle cx="272.7" cy="777.3" r="3.85" fill="#9b1414"/>
<circle cx="279.4" cy="775.9" r="3.85" fill="#9b1414"/>
<circle cx="295.4" cy="798.2" r="3.85" fill="#9b1414"/>
<circle cx="278.4" cy="818.2" r="3.85" fill="#9b1414"/>
<circle cx="291.4" cy="820.5" r="3.85" fill="#9b1414"/>
<circle cx="300.3" cy="822.5" r="3.85" fill="#9b1414"/>
<circle cx="297.4" cy="843.2" r="3.85" fill="#9b1414"/>
<circle cx="285.4" cy="850.8" r="3.85" fill="#9b1414"/>
<circle cx="288.4" cy="856.5" r="3.85" fill="#9b1414"/>
<circle cx="280.4" cy="865.1" r="3.85" fill="#9b1414"/>
<circle cx="309.7" cy="851.5" r="3.85" fill="#9b1414"/>
<circle cx="303.0" cy="899.8" r="3.85" fill="#9b1414"/>
<circle cx="259.7" cy="906.4" r="3.85" fill="#9b1414"/>
<circle cx="326.6" cy="766.6" r="3.85" fill="#9b1414"/>
<circle cx="333.3" cy="761.3" r="3.85" fill="#9b1414"/>
<circle cx="337.0" cy="791.6" r="3.85" fill="#9b1414"/>
<circle cx="337.6" cy="801.6" r="3.85" fill="#9b1414"/>
<circle cx="317.7" cy="831.5" r="3.85" fill="#9b1414"/>
<circle cx="327.6" cy="845.5" r="3.85" fill="#9b1414"/>
<circle cx="329.3" cy="869.8" r="3.85" fill="#9b1414"/>
<circle cx="329.3" cy="896.4" r="3.85" fill="#9b1414"/>
<circle cx="353.3" cy="814.9" r="3.85" fill="#9b1414"/>
<circle cx="366.6" cy="771.6" r="3.85" fill="#9b1414"/>
<circle cx="363.6" cy="818.9" r="3.85" fill="#9b1414"/>
<circle cx="390.2" cy="793.3" r="3.85" fill="#9b1414"/>
<circle cx="384.9" cy="809.2" r="3.85" fill="#9b1414"/>
<circle cx="387.6" cy="822.2" r="3.85" fill="#9b1414"/>
<circle cx="394.9" cy="831.5" r="3.85" fill="#9b1414"/>
<circle cx="397.5" cy="838.9" r="3.85" fill="#9b1414"/>
<circle cx="395.2" cy="872.1" r="3.85" fill="#9b1414"/>
<circle cx="355.3" cy="880.8" r="3.85" fill="#9b1414"/>
<circle cx="354.3" cy="891.4" r="3.85" fill="#9b1414"/>
<circle cx="365.3" cy="899.8" r="3.85" fill="#9b1414"/>
<circle cx="380.9" cy="904.8" r="3.85" fill="#9b1414"/>
<circle cx="402.5" cy="805.6" r="3.85" fill="#9b1414"/>
<circle cx="411.8" cy="803.9" r="3.85" fill="#9b1414"/>
<circle cx="402.5" cy="824.2" r="3.85" fill="#9b1414"/>
<circle cx="423.5" cy="808.9" r="3.85" fill="#9b1414"/>
<circle cx="428.5" cy="776.9" r="3.85" fill="#9b1414"/>
<circle cx="441.8" cy="784.3" r="3.85" fill="#9b1414"/>
<circle cx="434.8" cy="799.2" r="3.85" fill="#9b1414"/>
<circle cx="450.8" cy="804.9" r="3.85" fill="#9b1414"/>
<circle cx="460.1" cy="798.2" r="3.85" fill="#9b1414"/>
<circle cx="470.8" cy="808.9" r="3.85" fill="#9b1414"/>
<circle cx="445.1" cy="762.6" r="3.85" fill="#9b1414"/>
<circle cx="433.1" cy="820.5" r="3.85" fill="#9b1414"/>
<circle cx="437.5" cy="821.5" r="3.85" fill="#9b1414"/>
<circle cx="466.4" cy="828.2" r="3.85" fill="#9b1414"/>
<circle cx="519.7" cy="873.8" r="3.85" fill="#9b1414"/>
<circle cx="530.7" cy="855.5" r="3.85" fill="#9b1414"/>
<circle cx="544.5" cy="810.2" r="3.85" fill="#9b1414"/>
<circle cx="205.2" cy="955.9" r="3.85" fill="#9b1414"/>
<circle cx="245.4" cy="913.3" r="3.85" fill="#9b1414"/>
<circle cx="311.0" cy="921.6" r="3.85" fill="#9b1414"/>
<circle cx="361.9" cy="918.0" r="3.85" fill="#9b1414"/>
<circle cx="347.3" cy="934.3" r="3.85" fill="#9b1414"/>
<circle cx="423.8" cy="921.3" r="3.85" fill="#9b1414"/>
<circle cx="473.8" cy="914.6" r="3.85" fill="#9b1414"/>
<rect x="545" y="533" width="103" height="71" fill="#fff"/>
<rect x="31.1" y="529.8" width="623.9" height="531.1000000000001" fill="none" stroke="#000" stroke-width="2.4"/>
<line x1="67.0" y1="1110.5" x2="67.0" y2="1535.3" stroke="#efefef" stroke-width="1.1"/>
<line x1="131.6" y1="1110.5" x2="131.6" y2="1535.3" stroke="#efefef" stroke-width="1.1"/>
<line x1="196.1" y1="1110.5" x2="196.1" y2="1535.3" stroke="#efefef" stroke-width="1.1"/>
<line x1="260.6" y1="1110.5" x2="260.6" y2="1535.3" stroke="#efefef" stroke-width="1.1"/>
<line x1="325.2" y1="1110.5" x2="325.2" y2="1535.3" stroke="#efefef" stroke-width="1.1"/>
<line x1="389.8" y1="1110.5" x2="389.8" y2="1535.3" stroke="#efefef" stroke-width="1.1"/>
<line x1="454.3" y1="1110.5" x2="454.3" y2="1535.3" stroke="#efefef" stroke-width="1.1"/>
<line x1="518.8" y1="1110.5" x2="518.8" y2="1535.3" stroke="#efefef" stroke-width="1.1"/>
<line x1="583.4" y1="1110.5" x2="583.4" y2="1535.3" stroke="#efefef" stroke-width="1.1"/>
<line x1="647.9" y1="1110.5" x2="647.9" y2="1535.3" stroke="#efefef" stroke-width="1.1"/>
<line x1="31.2" y1="1173.6" x2="660.9" y2="1173.6" stroke="#f3f3f3" stroke-width="1.1"/>
<line x1="31.2" y1="1237.0" x2="660.9" y2="1237.0" stroke="#f3f3f3" stroke-width="1.1"/>
<line x1="31.2" y1="1300.4" x2="660.9" y2="1300.4" stroke="#f3f3f3" stroke-width="1.1"/>
<line x1="31.2" y1="1363.9" x2="660.9" y2="1363.9" stroke="#f3f3f3" stroke-width="1.1"/>
<line x1="31.2" y1="1427.3" x2="660.9" y2="1427.3" stroke="#f3f3f3" stroke-width="1.1"/>
<line x1="31.2" y1="1490.7" x2="660.9" y2="1490.7" stroke="#f3f3f3" stroke-width="1.1"/>
<line x1="31.2" y1="1363.9" x2="660.9" y2="1363.9" stroke="#222" stroke-width="1.4" stroke-dasharray="4.3 3.7"/>
<line x1="260.6" y1="1110.5" x2="260.6" y2="1535.3" stroke="#222" stroke-width="1.4" stroke-dasharray="4.3 3.7"/>
<circle cx="291.4" cy="1246.0" r="3.85" fill="#9b1414"/>
<circle cx="144.9" cy="1259.0" r="3.85" fill="#9b1414"/>
<circle cx="460.1" cy="1244.3" r="3.85" fill="#9b1414"/>
<circle cx="441.8" cy="1272.9" r="3.85" fill="#9b1414"/>
<circle cx="514.7" cy="1303.2" r="3.85" fill="#9b1414"/>
<circle cx="462.8" cy="1349.8" r="3.85" fill="#9b1414"/>
<circle cx="494.4" cy="1351.8" r="3.85" fill="#9b1414"/>
<circle cx="453.5" cy="1362.5" r="3.85" fill="#9b1414"/>
<circle cx="436.8" cy="1393.8" r="3.85" fill="#9b1414"/>
<circle cx="479.7" cy="1398.7" r="3.85" fill="#9b1414"/>
<circle cx="479.6" cy="1161.6" r="3.85" fill="#9b1414"/>
<circle cx="462.0" cy="1194.5" r="3.85" fill="#9b1414"/>
<circle cx="149.2" cy="1309.0" r="3.85" fill="#9b1414"/>
<circle cx="173.0" cy="1309.0" r="3.85" fill="#9b1414"/>
<circle cx="226.8" cy="1304.2" r="3.85" fill="#9b1414"/>
<circle cx="218.2" cy="1345.0" r="3.85" fill="#9b1414"/>
<circle cx="225.0" cy="1348.0" r="3.85" fill="#9b1414"/>
<circle cx="218.0" cy="1354.2" r="3.85" fill="#9b1414"/>
<circle cx="212.8" cy="1365.5" r="3.85" fill="#9b1414"/>
<circle cx="116.8" cy="1377.5" r="3.85" fill="#9b1414"/>
<circle cx="143.8" cy="1374.5" r="3.85" fill="#9b1414"/>
<circle cx="235.8" cy="1380.0" r="3.85" fill="#9b1414"/>
<circle cx="267.8" cy="1278.0" r="3.85" fill="#9b1414"/>
<circle cx="269.5" cy="1303.2" r="3.85" fill="#9b1414"/>
<circle cx="404.2" cy="1285.0" r="3.85" fill="#9b1414"/>
<circle cx="371.8" cy="1293.0" r="3.85" fill="#9b1414"/>
<circle cx="397.2" cy="1321.8" r="3.85" fill="#9b1414"/>
<circle cx="412.8" cy="1325.8" r="3.85" fill="#9b1414"/>
<circle cx="348.5" cy="1336.8" r="3.85" fill="#9b1414"/>
<circle cx="303.5" cy="1330.8" r="3.85" fill="#9b1414"/>
<circle cx="275.5" cy="1334.5" r="3.85" fill="#9b1414"/>
<circle cx="279.8" cy="1339.2" r="3.85" fill="#9b1414"/>
<circle cx="332.2" cy="1346.2" r="3.85" fill="#9b1414"/>
<circle cx="372.2" cy="1350.8" r="3.85" fill="#9b1414"/>
<circle cx="319.2" cy="1361.2" r="3.85" fill="#9b1414"/>
<circle cx="337.2" cy="1362.0" r="3.85" fill="#9b1414"/>
<circle cx="275.5" cy="1370.5" r="3.85" fill="#9b1414"/>
<circle cx="367.0" cy="1380.0" r="3.85" fill="#9b1414"/>
<circle cx="313.5" cy="1385.5" r="3.85" fill="#9b1414"/>
<circle cx="297.2" cy="1383.0" r="3.85" fill="#9b1414"/>
<circle cx="128.2" cy="1412.0" r="3.85" fill="#9b1414"/>
<circle cx="128.2" cy="1413.8" r="3.85" fill="#9b1414"/>
<circle cx="146.5" cy="1396.2" r="3.85" fill="#9b1414"/>
<circle cx="197.0" cy="1451.2" r="3.85" fill="#9b1414"/>
<circle cx="326.0" cy="1396.2" r="3.85" fill="#9b1414"/>
<circle cx="356.8" cy="1395.5" r="3.85" fill="#9b1414"/>
<circle cx="353.5" cy="1409.0" r="3.85" fill="#9b1414"/>
<circle cx="293.5" cy="1410.8" r="3.85" fill="#9b1414"/>
<circle cx="276.8" cy="1413.8" r="3.85" fill="#9b1414"/>
<circle cx="419.8" cy="1423.0" r="3.85" fill="#9b1414"/>
<circle cx="225.1" cy="1247.6" r="3.85" fill="#2a00ff"/>
<circle cx="248.4" cy="1250.6" r="3.85" fill="#2a00ff"/>
<circle cx="255.4" cy="1255.3" r="3.85" fill="#2a00ff"/>
<circle cx="285.0" cy="1254.6" r="3.85" fill="#2a00ff"/>
<circle cx="164.9" cy="1263.9" r="3.85" fill="#2a00ff"/>
<circle cx="225.5" cy="1263.3" r="3.85" fill="#2a00ff"/>
<circle cx="253.4" cy="1268.3" r="3.85" fill="#2a00ff"/>
<circle cx="268.4" cy="1264.3" r="3.85" fill="#2a00ff"/>
<circle cx="350.3" cy="1245.3" r="3.85" fill="#2a00ff"/>
<circle cx="157.0" cy="1281.8" r="3.85" fill="#2a00ff"/>
<circle cx="214.5" cy="1280.0" r="3.85" fill="#2a00ff"/>
<circle cx="234.5" cy="1282.0" r="3.85" fill="#2a00ff"/>
<circle cx="146.8" cy="1293.8" r="3.85" fill="#2a00ff"/>
<circle cx="191.2" cy="1288.8" r="3.85" fill="#2a00ff"/>
<circle cx="183.8" cy="1294.2" r="3.85" fill="#2a00ff"/>
<circle cx="171.2" cy="1298.2" r="3.85" fill="#2a00ff"/>
<circle cx="208.0" cy="1296.2" r="3.85" fill="#2a00ff"/>
<circle cx="214.5" cy="1298.2" r="3.85" fill="#2a00ff"/>
<circle cx="222.5" cy="1290.8" r="3.85" fill="#2a00ff"/>
<circle cx="227.0" cy="1289.2" r="3.85" fill="#2a00ff"/>
<circle cx="229.5" cy="1295.8" r="3.85" fill="#2a00ff"/>
<circle cx="240.8" cy="1293.8" r="3.85" fill="#2a00ff"/>
<circle cx="252.5" cy="1290.0" r="3.85" fill="#2a00ff"/>
<circle cx="257.5" cy="1275.0" r="3.85" fill="#2a00ff"/>
<circle cx="186.8" cy="1303.0" r="3.85" fill="#2a00ff"/>
<circle cx="167.5" cy="1308.0" r="3.85" fill="#2a00ff"/>
<circle cx="155.5" cy="1315.0" r="3.85" fill="#2a00ff"/>
<circle cx="220.0" cy="1309.2" r="3.85" fill="#2a00ff"/>
<circle cx="226.2" cy="1306.2" r="3.85" fill="#2a00ff"/>
<circle cx="230.0" cy="1303.8" r="3.85" fill="#2a00ff"/>
<circle cx="235.8" cy="1302.5" r="3.85" fill="#2a00ff"/>
<circle cx="244.5" cy="1303.8" r="3.85" fill="#2a00ff"/>
<circle cx="253.2" cy="1309.2" r="3.85" fill="#2a00ff"/>
<circle cx="258.8" cy="1305.0" r="3.85" fill="#2a00ff"/>
<circle cx="168.8" cy="1317.5" r="3.85" fill="#2a00ff"/>
<circle cx="171.2" cy="1322.0" r="3.85" fill="#2a00ff"/>
<circle cx="194.5" cy="1316.2" r="3.85" fill="#2a00ff"/>
<circle cx="187.5" cy="1322.5" r="3.85" fill="#2a00ff"/>
<circle cx="202.5" cy="1321.8" r="3.85" fill="#2a00ff"/>
<circle cx="206.2" cy="1323.8" r="3.85" fill="#2a00ff"/>
<circle cx="215.0" cy="1318.8" r="3.85" fill="#2a00ff"/>
<circle cx="221.2" cy="1318.2" r="3.85" fill="#2a00ff"/>
<circle cx="225.0" cy="1317.5" r="3.85" fill="#2a00ff"/>
<circle cx="213.8" cy="1324.5" r="3.85" fill="#2a00ff"/>
<circle cx="243.8" cy="1321.2" r="3.85" fill="#2a00ff"/>
<circle cx="246.2" cy="1316.2" r="3.85" fill="#2a00ff"/>
<circle cx="250.0" cy="1317.5" r="3.85" fill="#2a00ff"/>
<circle cx="255.0" cy="1320.0" r="3.85" fill="#2a00ff"/>
<circle cx="125.2" cy="1324.0" r="3.85" fill="#2a00ff"/>
<circle cx="137.5" cy="1324.5" r="3.85" fill="#2a00ff"/>
<circle cx="163.2" cy="1330.5" r="3.85" fill="#2a00ff"/>
<circle cx="175.0" cy="1328.2" r="3.85" fill="#2a00ff"/>
<circle cx="178.0" cy="1327.0" r="3.85" fill="#2a00ff"/>
<circle cx="181.2" cy="1330.0" r="3.85" fill="#2a00ff"/>
<circle cx="172.5" cy="1334.5" r="3.85" fill="#2a00ff"/>
<circle cx="180.0" cy="1336.2" r="3.85" fill="#2a00ff"/>
<circle cx="185.0" cy="1328.8" r="3.85" fill="#2a00ff"/>
<circle cx="188.8" cy="1331.2" r="3.85" fill="#2a00ff"/>
<circle cx="193.8" cy="1330.0" r="3.85" fill="#2a00ff"/>
<circle cx="197.5" cy="1327.5" r="3.85" fill="#2a00ff"/>
<circle cx="200.0" cy="1331.2" r="3.85" fill="#2a00ff"/>
<circle cx="203.8" cy="1328.8" r="3.85" fill="#2a00ff"/>
<circle cx="210.0" cy="1330.0" r="3.85" fill="#2a00ff"/>
<circle cx="187.5" cy="1337.5" r="3.85" fill="#2a00ff"/>
<circle cx="193.8" cy="1336.2" r="3.85" fill="#2a00ff"/>
<circle cx="214.5" cy="1335.8" r="3.85" fill="#2a00ff"/>
<circle cx="224.2" cy="1333.8" r="3.85" fill="#2a00ff"/>
<circle cx="230.0" cy="1337.5" r="3.85" fill="#2a00ff"/>
<circle cx="236.2" cy="1331.2" r="3.85" fill="#2a00ff"/>
<circle cx="240.0" cy="1327.5" r="3.85" fill="#2a00ff"/>
<circle cx="247.5" cy="1326.2" r="3.85" fill="#2a00ff"/>
<circle cx="252.5" cy="1328.8" r="3.85" fill="#2a00ff"/>
<circle cx="256.2" cy="1331.2" r="3.85" fill="#2a00ff"/>
<circle cx="243.8" cy="1337.5" r="3.85" fill="#2a00ff"/>
<circle cx="250.0" cy="1338.8" r="3.85" fill="#2a00ff"/>
<circle cx="260.0" cy="1336.2" r="3.85" fill="#2a00ff"/>
<circle cx="158.8" cy="1339.5" r="3.85" fill="#2a00ff"/>
<circle cx="141.8" cy="1343.8" r="3.85" fill="#2a00ff"/>
<circle cx="131.8" cy="1350.0" r="3.85" fill="#2a00ff"/>
<circle cx="141.8" cy="1353.2" r="3.85" fill="#2a00ff"/>
<circle cx="156.2" cy="1349.5" r="3.85" fill="#2a00ff"/>
<circle cx="164.2" cy="1353.2" r="3.85" fill="#2a00ff"/>
<circle cx="180.0" cy="1344.2" r="3.85" fill="#2a00ff"/>
<circle cx="185.0" cy="1346.2" r="3.85" fill="#2a00ff"/>
<circle cx="190.0" cy="1345.0" r="3.85" fill="#2a00ff"/>
<circle cx="193.8" cy="1347.5" r="3.85" fill="#2a00ff"/>
<circle cx="201.8" cy="1342.5" r="3.85" fill="#2a00ff"/>
<circle cx="202.5" cy="1347.5" r="3.85" fill="#2a00ff"/>
<circle cx="207.5" cy="1346.2" r="3.85" fill="#2a00ff"/>
<circle cx="210.0" cy="1351.2" r="3.85" fill="#2a00ff"/>
<circle cx="183.2" cy="1352.5" r="3.85" fill="#2a00ff"/>
<circle cx="188.8" cy="1353.8" r="3.85" fill="#2a00ff"/>
<circle cx="193.8" cy="1351.2" r="3.85" fill="#2a00ff"/>
<circle cx="220.0" cy="1352.5" r="3.85" fill="#2a00ff"/>
<circle cx="223.8" cy="1351.2" r="3.85" fill="#2a00ff"/>
<circle cx="230.0" cy="1345.0" r="3.85" fill="#2a00ff"/>
<circle cx="236.2" cy="1342.5" r="3.85" fill="#2a00ff"/>
<circle cx="231.2" cy="1348.8" r="3.85" fill="#2a00ff"/>
<circle cx="250.0" cy="1351.2" r="3.85" fill="#2a00ff"/>
<circle cx="255.0" cy="1348.8" r="3.85" fill="#2a00ff"/>
<circle cx="247.5" cy="1356.2" r="3.85" fill="#2a00ff"/>
<circle cx="256.2" cy="1345.0" r="3.85" fill="#2a00ff"/>
<circle cx="131.2" cy="1358.0" r="3.85" fill="#2a00ff"/>
<circle cx="181.2" cy="1358.8" r="3.85" fill="#2a00ff"/>
<circle cx="185.0" cy="1361.2" r="3.85" fill="#2a00ff"/>
<circle cx="191.2" cy="1357.5" r="3.85" fill="#2a00ff"/>
<circle cx="202.5" cy="1356.2" r="3.85" fill="#2a00ff"/>
<circle cx="208.8" cy="1355.0" r="3.85" fill="#2a00ff"/>
<circle cx="222.5" cy="1357.5" r="3.85" fill="#2a00ff"/>
<circle cx="226.2" cy="1364.5" r="3.85" fill="#2a00ff"/>
<circle cx="217.5" cy="1362.5" r="3.85" fill="#2a00ff"/>
<circle cx="236.2" cy="1360.0" r="3.85" fill="#2a00ff"/>
<circle cx="238.8" cy="1363.8" r="3.85" fill="#2a00ff"/>
<circle cx="245.0" cy="1358.8" r="3.85" fill="#2a00ff"/>
<circle cx="250.0" cy="1361.2" r="3.85" fill="#2a00ff"/>
<circle cx="255.0" cy="1363.8" r="3.85" fill="#2a00ff"/>
<circle cx="260.0" cy="1357.5" r="3.85" fill="#2a00ff"/>
<circle cx="165.5" cy="1364.5" r="3.85" fill="#2a00ff"/>
<circle cx="175.0" cy="1371.8" r="3.85" fill="#2a00ff"/>
<circle cx="201.2" cy="1368.8" r="3.85" fill="#2a00ff"/>
<circle cx="198.8" cy="1372.5" r="3.85" fill="#2a00ff"/>
<circle cx="197.5" cy="1375.0" r="3.85" fill="#2a00ff"/>
<circle cx="161.2" cy="1378.0" r="3.85" fill="#2a00ff"/>
<circle cx="157.5" cy="1383.0" r="3.85" fill="#2a00ff"/>
<circle cx="186.2" cy="1380.5" r="3.85" fill="#2a00ff"/>
<circle cx="170.8" cy="1381.8" r="3.85" fill="#2a00ff"/>
<circle cx="200.5" cy="1380.0" r="3.85" fill="#2a00ff"/>
<circle cx="210.0" cy="1379.2" r="3.85" fill="#2a00ff"/>
<circle cx="217.5" cy="1376.2" r="3.85" fill="#2a00ff"/>
<circle cx="222.5" cy="1373.8" r="3.85" fill="#2a00ff"/>
<circle cx="227.5" cy="1375.0" r="3.85" fill="#2a00ff"/>
<circle cx="230.0" cy="1378.8" r="3.85" fill="#2a00ff"/>
<circle cx="242.5" cy="1370.0" r="3.85" fill="#2a00ff"/>
<circle cx="247.5" cy="1367.5" r="3.85" fill="#2a00ff"/>
<circle cx="252.5" cy="1370.0" r="3.85" fill="#2a00ff"/>
<circle cx="256.2" cy="1366.2" r="3.85" fill="#2a00ff"/>
<circle cx="245.0" cy="1375.0" r="3.85" fill="#2a00ff"/>
<circle cx="250.0" cy="1377.5" r="3.85" fill="#2a00ff"/>
<circle cx="255.0" cy="1375.0" r="3.85" fill="#2a00ff"/>
<circle cx="260.0" cy="1377.5" r="3.85" fill="#2a00ff"/>
<circle cx="242.5" cy="1381.2" r="3.85" fill="#2a00ff"/>
<circle cx="108.0" cy="1386.2" r="3.85" fill="#2a00ff"/>
<circle cx="163.8" cy="1387.5" r="3.85" fill="#2a00ff"/>
<circle cx="178.2" cy="1386.8" r="3.85" fill="#2a00ff"/>
<circle cx="193.8" cy="1387.5" r="3.85" fill="#2a00ff"/>
<circle cx="197.5" cy="1385.0" r="3.85" fill="#2a00ff"/>
<circle cx="205.0" cy="1387.5" r="3.85" fill="#2a00ff"/>
<circle cx="211.2" cy="1385.0" r="3.85" fill="#2a00ff"/>
<circle cx="217.5" cy="1383.8" r="3.85" fill="#2a00ff"/>
<circle cx="222.5" cy="1387.5" r="3.85" fill="#2a00ff"/>
<circle cx="225.0" cy="1383.8" r="3.85" fill="#2a00ff"/>
<circle cx="232.5" cy="1386.2" r="3.85" fill="#2a00ff"/>
<circle cx="240.0" cy="1387.5" r="3.85" fill="#2a00ff"/>
<circle cx="247.5" cy="1385.0" r="3.85" fill="#2a00ff"/>
<circle cx="252.5" cy="1387.5" r="3.85" fill="#2a00ff"/>
<circle cx="257.5" cy="1383.8" r="3.85" fill="#2a00ff"/>
<circle cx="290.5" cy="1273.0" r="3.85" fill="#2a00ff"/>
<circle cx="311.5" cy="1280.0" r="3.85" fill="#2a00ff"/>
<circle cx="321.5" cy="1280.5" r="3.85" fill="#2a00ff"/>
<circle cx="324.0" cy="1282.0" r="3.85" fill="#2a00ff"/>
<circle cx="305.2" cy="1288.0" r="3.85" fill="#2a00ff"/>
<circle cx="309.8" cy="1285.5" r="3.85" fill="#2a00ff"/>
<circle cx="381.5" cy="1280.0" r="3.85" fill="#2a00ff"/>
<circle cx="266.8" cy="1295.0" r="3.85" fill="#2a00ff"/>
<circle cx="286.8" cy="1294.5" r="3.85" fill="#2a00ff"/>
<circle cx="300.5" cy="1299.2" r="3.85" fill="#2a00ff"/>
<circle cx="415.2" cy="1303.2" r="3.85" fill="#2a00ff"/>
<circle cx="280.2" cy="1305.5" r="3.85" fill="#2a00ff"/>
<circle cx="287.2" cy="1307.5" r="3.85" fill="#2a00ff"/>
<circle cx="309.2" cy="1309.5" r="3.85" fill="#2a00ff"/>
<circle cx="313.0" cy="1309.2" r="3.85" fill="#2a00ff"/>
<circle cx="315.2" cy="1311.8" r="3.85" fill="#2a00ff"/>
<circle cx="316.8" cy="1314.5" r="3.85" fill="#2a00ff"/>
<circle cx="333.2" cy="1313.0" r="3.85" fill="#2a00ff"/>
<circle cx="276.0" cy="1314.2" r="3.85" fill="#2a00ff"/>
<circle cx="263.5" cy="1317.5" r="3.85" fill="#2a00ff"/>
<circle cx="269.8" cy="1320.0" r="3.85" fill="#2a00ff"/>
<circle cx="268.5" cy="1323.2" r="3.85" fill="#2a00ff"/>
<circle cx="276.8" cy="1324.2" r="3.85" fill="#2a00ff"/>
<circle cx="277.8" cy="1326.2" r="3.85" fill="#2a00ff"/>
<circle cx="298.5" cy="1323.0" r="3.85" fill="#2a00ff"/>
<circle cx="307.8" cy="1326.2" r="3.85" fill="#2a00ff"/>
<circle cx="320.2" cy="1327.5" r="3.85" fill="#2a00ff"/>
<circle cx="338.5" cy="1329.5" r="3.85" fill="#2a00ff"/>
<circle cx="295.2" cy="1330.8" r="3.85" fill="#2a00ff"/>
<circle cx="388.0" cy="1332.0" r="3.85" fill="#2a00ff"/>
<circle cx="291.0" cy="1334.2" r="3.85" fill="#2a00ff"/>
<circle cx="288.5" cy="1336.2" r="3.85" fill="#2a00ff"/>
<circle cx="283.5" cy="1337.0" r="3.85" fill="#2a00ff"/>
<circle cx="310.2" cy="1337.0" r="3.85" fill="#2a00ff"/>
<circle cx="266.0" cy="1345.0" r="3.85" fill="#2a00ff"/>
<circle cx="269.8" cy="1346.2" r="3.85" fill="#2a00ff"/>
<circle cx="273.5" cy="1351.2" r="3.85" fill="#2a00ff"/>
<circle cx="261.0" cy="1347.5" r="3.85" fill="#2a00ff"/>
<circle cx="281.0" cy="1342.5" r="3.85" fill="#2a00ff"/>
<circle cx="286.0" cy="1341.2" r="3.85" fill="#2a00ff"/>
<circle cx="287.2" cy="1345.0" r="3.85" fill="#2a00ff"/>
<circle cx="283.5" cy="1347.5" r="3.85" fill="#2a00ff"/>
<circle cx="288.5" cy="1350.0" r="3.85" fill="#2a00ff"/>
<circle cx="282.2" cy="1352.5" r="3.85" fill="#2a00ff"/>
<circle cx="292.2" cy="1343.8" r="3.85" fill="#2a00ff"/>
<circle cx="281.0" cy="1356.2" r="3.85" fill="#2a00ff"/>
<circle cx="286.0" cy="1357.5" r="3.85" fill="#2a00ff"/>
<circle cx="293.5" cy="1352.5" r="3.85" fill="#2a00ff"/>
<circle cx="297.2" cy="1353.8" r="3.85" fill="#2a00ff"/>
<circle cx="301.0" cy="1355.0" r="3.85" fill="#2a00ff"/>
<circle cx="308.5" cy="1346.2" r="3.85" fill="#2a00ff"/>
<circle cx="309.0" cy="1350.0" r="3.85" fill="#2a00ff"/>
<circle cx="317.2" cy="1352.5" r="3.85" fill="#2a00ff"/>
<circle cx="323.0" cy="1352.5" r="3.85" fill="#2a00ff"/>
<circle cx="328.5" cy="1349.5" r="3.85" fill="#2a00ff"/>
<circle cx="298.5" cy="1361.2" r="3.85" fill="#2a00ff"/>
<circle cx="304.8" cy="1361.2" r="3.85" fill="#2a00ff"/>
<circle cx="274.8" cy="1362.5" r="3.85" fill="#2a00ff"/>
<circle cx="276.0" cy="1366.2" r="3.85" fill="#2a00ff"/>
<circle cx="282.2" cy="1361.2" r="3.85" fill="#2a00ff"/>
<circle cx="287.2" cy="1363.8" r="3.85" fill="#2a00ff"/>
<circle cx="294.8" cy="1366.2" r="3.85" fill="#2a00ff"/>
<circle cx="301.0" cy="1366.2" r="3.85" fill="#2a00ff"/>
<circle cx="304.8" cy="1370.0" r="3.85" fill="#2a00ff"/>
<circle cx="286.0" cy="1370.0" r="3.85" fill="#2a00ff"/>
<circle cx="281.0" cy="1371.2" r="3.85" fill="#2a00ff"/>
<circle cx="314.8" cy="1367.5" r="3.85" fill="#2a00ff"/>
<circle cx="322.2" cy="1367.5" r="3.85" fill="#2a00ff"/>
<circle cx="331.0" cy="1361.8" r="3.85" fill="#2a00ff"/>
<circle cx="331.0" cy="1366.2" r="3.85" fill="#2a00ff"/>
<circle cx="332.2" cy="1372.5" r="3.85" fill="#2a00ff"/>
<circle cx="350.0" cy="1359.2" r="3.85" fill="#2a00ff"/>
<circle cx="375.5" cy="1360.5" r="3.85" fill="#2a00ff"/>
<circle cx="391.5" cy="1360.5" r="3.85" fill="#2a00ff"/>
<circle cx="400.8" cy="1358.5" r="3.85" fill="#2a00ff"/>
<circle cx="344.0" cy="1371.8" r="3.85" fill="#2a00ff"/>
<circle cx="263.5" cy="1368.8" r="3.85" fill="#2a00ff"/>
<circle cx="269.8" cy="1376.2" r="3.85" fill="#2a00ff"/>
<circle cx="273.5" cy="1378.8" r="3.85" fill="#2a00ff"/>
<circle cx="278.5" cy="1375.0" r="3.85" fill="#2a00ff"/>
<circle cx="283.5" cy="1377.5" r="3.85" fill="#2a00ff"/>
<circle cx="291.0" cy="1376.2" r="3.85" fill="#2a00ff"/>
<circle cx="294.8" cy="1380.0" r="3.85" fill="#2a00ff"/>
<circle cx="303.5" cy="1378.8" r="3.85" fill="#2a00ff"/>
<circle cx="308.5" cy="1378.8" r="3.85" fill="#2a00ff"/>
<circle cx="313.5" cy="1381.2" r="3.85" fill="#2a00ff"/>
<circle cx="319.8" cy="1376.2" r="3.85" fill="#2a00ff"/>
<circle cx="318.5" cy="1380.0" r="3.85" fill="#2a00ff"/>
<circle cx="328.5" cy="1382.5" r="3.85" fill="#2a00ff"/>
<circle cx="266.0" cy="1386.2" r="3.85" fill="#2a00ff"/>
<circle cx="276.0" cy="1385.0" r="3.85" fill="#2a00ff"/>
<circle cx="281.0" cy="1387.5" r="3.85" fill="#2a00ff"/>
<circle cx="288.5" cy="1386.2" r="3.85" fill="#2a00ff"/>
<circle cx="303.5" cy="1387.5" r="3.85" fill="#2a00ff"/>
<circle cx="373.5" cy="1378.0" r="3.85" fill="#2a00ff"/>
<circle cx="379.0" cy="1380.5" r="3.85" fill="#2a00ff"/>
<circle cx="383.0" cy="1383.2" r="3.85" fill="#2a00ff"/>
<circle cx="361.0" cy="1385.0" r="3.85" fill="#2a00ff"/>
<circle cx="364.2" cy="1385.8" r="3.85" fill="#2a00ff"/>
<circle cx="128.2" cy="1395.8" r="3.85" fill="#2a00ff"/>
<circle cx="139.2" cy="1394.2" r="3.85" fill="#2a00ff"/>
<circle cx="147.5" cy="1394.5" r="3.85" fill="#2a00ff"/>
<circle cx="153.2" cy="1390.8" r="3.85" fill="#2a00ff"/>
<circle cx="161.2" cy="1391.2" r="3.85" fill="#2a00ff"/>
<circle cx="164.5" cy="1396.2" r="3.85" fill="#2a00ff"/>
<circle cx="162.5" cy="1399.2" r="3.85" fill="#2a00ff"/>
<circle cx="180.8" cy="1397.0" r="3.85" fill="#2a00ff"/>
<circle cx="186.2" cy="1403.8" r="3.85" fill="#2a00ff"/>
<circle cx="181.2" cy="1410.8" r="3.85" fill="#2a00ff"/>
<circle cx="184.2" cy="1413.8" r="3.85" fill="#2a00ff"/>
<circle cx="167.5" cy="1416.2" r="3.85" fill="#2a00ff"/>
<circle cx="175.5" cy="1421.2" r="3.85" fill="#2a00ff"/>
<circle cx="137.5" cy="1410.8" r="3.85" fill="#2a00ff"/>
<circle cx="135.2" cy="1417.0" r="3.85" fill="#2a00ff"/>
<circle cx="191.8" cy="1422.5" r="3.85" fill="#2a00ff"/>
<circle cx="196.2" cy="1416.2" r="3.85" fill="#2a00ff"/>
<circle cx="200.0" cy="1412.0" r="3.85" fill="#2a00ff"/>
<circle cx="202.0" cy="1403.8" r="3.85" fill="#2a00ff"/>
<circle cx="200.0" cy="1395.0" r="3.85" fill="#2a00ff"/>
<circle cx="193.8" cy="1391.2" r="3.85" fill="#2a00ff"/>
<circle cx="202.5" cy="1397.5" r="3.85" fill="#2a00ff"/>
<circle cx="210.0" cy="1401.2" r="3.85" fill="#2a00ff"/>
<circle cx="212.5" cy="1405.0" r="3.85" fill="#2a00ff"/>
<circle cx="213.8" cy="1408.8" r="3.85" fill="#2a00ff"/>
<circle cx="220.0" cy="1401.2" r="3.85" fill="#2a00ff"/>
<circle cx="222.5" cy="1405.0" r="3.85" fill="#2a00ff"/>
<circle cx="220.0" cy="1411.2" r="3.85" fill="#2a00ff"/>
<circle cx="225.0" cy="1416.2" r="3.85" fill="#2a00ff"/>
<circle cx="225.0" cy="1423.8" r="3.85" fill="#2a00ff"/>
<circle cx="211.8" cy="1427.5" r="3.85" fill="#2a00ff"/>
<circle cx="218.8" cy="1433.8" r="3.85" fill="#2a00ff"/>
<circle cx="225.0" cy="1430.0" r="3.85" fill="#2a00ff"/>
<circle cx="226.2" cy="1433.8" r="3.85" fill="#2a00ff"/>
<circle cx="235.0" cy="1417.5" r="3.85" fill="#2a00ff"/>
<circle cx="236.2" cy="1426.2" r="3.85" fill="#2a00ff"/>
<circle cx="234.2" cy="1434.5" r="3.85" fill="#2a00ff"/>
<circle cx="244.5" cy="1416.2" r="3.85" fill="#2a00ff"/>
<circle cx="250.0" cy="1411.2" r="3.85" fill="#2a00ff"/>
<circle cx="243.8" cy="1408.8" r="3.85" fill="#2a00ff"/>
<circle cx="240.0" cy="1403.8" r="3.85" fill="#2a00ff"/>
<circle cx="234.2" cy="1400.5" r="3.85" fill="#2a00ff"/>
<circle cx="247.5" cy="1401.2" r="3.85" fill="#2a00ff"/>
<circle cx="250.0" cy="1403.8" r="3.85" fill="#2a00ff"/>
<circle cx="241.2" cy="1393.8" r="3.85" fill="#2a00ff"/>
<circle cx="247.5" cy="1391.2" r="3.85" fill="#2a00ff"/>
<circle cx="255.0" cy="1395.0" r="3.85" fill="#2a00ff"/>
<circle cx="225.0" cy="1390.0" r="3.85" fill="#2a00ff"/>
<circle cx="217.5" cy="1390.0" r="3.85" fill="#2a00ff"/>
<circle cx="256.2" cy="1418.8" r="3.85" fill="#2a00ff"/>
<circle cx="250.0" cy="1426.2" r="3.85" fill="#2a00ff"/>
<circle cx="253.8" cy="1429.5" r="3.85" fill="#2a00ff"/>
<circle cx="260.0" cy="1429.5" r="3.85" fill="#2a00ff"/>
<circle cx="249.2" cy="1436.2" r="3.85" fill="#2a00ff"/>
<circle cx="260.0" cy="1440.0" r="3.85" fill="#2a00ff"/>
<circle cx="248.8" cy="1443.8" r="3.85" fill="#2a00ff"/>
<circle cx="256.2" cy="1445.0" r="3.85" fill="#2a00ff"/>
<circle cx="240.0" cy="1449.5" r="3.85" fill="#2a00ff"/>
<circle cx="229.5" cy="1444.2" r="3.85" fill="#2a00ff"/>
<circle cx="226.8" cy="1450.5" r="3.85" fill="#2a00ff"/>
<circle cx="220.0" cy="1451.2" r="3.85" fill="#2a00ff"/>
<circle cx="214.5" cy="1441.2" r="3.85" fill="#2a00ff"/>
<circle cx="195.8" cy="1437.5" r="3.85" fill="#2a00ff"/>
<circle cx="198.8" cy="1435.0" r="3.85" fill="#2a00ff"/>
<circle cx="201.2" cy="1433.8" r="3.85" fill="#2a00ff"/>
<circle cx="205.8" cy="1453.5" r="3.85" fill="#2a00ff"/>
<circle cx="209.2" cy="1465.0" r="3.85" fill="#2a00ff"/>
<circle cx="206.2" cy="1472.5" r="3.85" fill="#2a00ff"/>
<circle cx="213.2" cy="1484.2" r="3.85" fill="#2a00ff"/>
<circle cx="162.2" cy="1452.5" r="3.85" fill="#2a00ff"/>
<circle cx="170.5" cy="1460.2" r="3.85" fill="#2a00ff"/>
<circle cx="149.2" cy="1476.0" r="3.85" fill="#2a00ff"/>
<circle cx="267.2" cy="1392.5" r="3.85" fill="#2a00ff"/>
<circle cx="281.0" cy="1395.0" r="3.85" fill="#2a00ff"/>
<circle cx="283.0" cy="1398.8" r="3.85" fill="#2a00ff"/>
<circle cx="289.8" cy="1396.2" r="3.85" fill="#2a00ff"/>
<circle cx="296.0" cy="1398.8" r="3.85" fill="#2a00ff"/>
<circle cx="299.8" cy="1393.8" r="3.85" fill="#2a00ff"/>
<circle cx="307.2" cy="1390.0" r="3.85" fill="#2a00ff"/>
<circle cx="293.5" cy="1403.8" r="3.85" fill="#2a00ff"/>
<circle cx="290.5" cy="1406.2" r="3.85" fill="#2a00ff"/>
<circle cx="268.5" cy="1403.8" r="3.85" fill="#2a00ff"/>
<circle cx="268.0" cy="1410.0" r="3.85" fill="#2a00ff"/>
<circle cx="272.2" cy="1412.5" r="3.85" fill="#2a00ff"/>
<circle cx="284.2" cy="1415.0" r="3.85" fill="#2a00ff"/>
<circle cx="280.2" cy="1421.2" r="3.85" fill="#2a00ff"/>
<circle cx="268.5" cy="1419.2" r="3.85" fill="#2a00ff"/>
<circle cx="262.2" cy="1418.8" r="3.85" fill="#2a00ff"/>
<circle cx="271.0" cy="1427.5" r="3.85" fill="#2a00ff"/>
<circle cx="270.5" cy="1431.2" r="3.85" fill="#2a00ff"/>
<circle cx="276.0" cy="1430.8" r="3.85" fill="#2a00ff"/>
<circle cx="286.8" cy="1430.8" r="3.85" fill="#2a00ff"/>
<circle cx="291.8" cy="1420.0" r="3.85" fill="#2a00ff"/>
<circle cx="298.0" cy="1418.8" r="3.85" fill="#2a00ff"/>
<circle cx="302.2" cy="1422.5" r="3.85" fill="#2a00ff"/>
<circle cx="306.0" cy="1427.5" r="3.85" fill="#2a00ff"/>
<circle cx="304.2" cy="1431.2" r="3.85" fill="#2a00ff"/>
<circle cx="300.5" cy="1436.8" r="3.85" fill="#2a00ff"/>
<circle cx="302.2" cy="1441.8" r="3.85" fill="#2a00ff"/>
<circle cx="309.2" cy="1418.2" r="3.85" fill="#2a00ff"/>
<circle cx="309.2" cy="1406.8" r="3.85" fill="#2a00ff"/>
<circle cx="314.8" cy="1400.0" r="3.85" fill="#2a00ff"/>
<circle cx="316.8" cy="1411.8" r="3.85" fill="#2a00ff"/>
<circle cx="328.5" cy="1397.0" r="3.85" fill="#2a00ff"/>
<circle cx="333.0" cy="1393.8" r="3.85" fill="#2a00ff"/>
<circle cx="332.2" cy="1402.5" r="3.85" fill="#2a00ff"/>
<circle cx="331.0" cy="1415.8" r="3.85" fill="#2a00ff"/>
<circle cx="323.5" cy="1427.0" r="3.85" fill="#2a00ff"/>
<circle cx="333.0" cy="1427.5" r="3.85" fill="#2a00ff"/>
<circle cx="324.5" cy="1438.8" r="3.85" fill="#2a00ff"/>
<circle cx="341.8" cy="1410.0" r="3.85" fill="#2a00ff"/>
<circle cx="343.5" cy="1398.2" r="3.85" fill="#2a00ff"/>
<circle cx="344.8" cy="1425.5" r="3.85" fill="#2a00ff"/>
<circle cx="346.0" cy="1428.8" r="3.85" fill="#2a00ff"/>
<circle cx="344.2" cy="1434.5" r="3.85" fill="#2a00ff"/>
<circle cx="357.2" cy="1434.2" r="3.85" fill="#2a00ff"/>
<circle cx="360.5" cy="1435.8" r="3.85" fill="#2a00ff"/>
<circle cx="365.2" cy="1422.5" r="3.85" fill="#2a00ff"/>
<circle cx="364.8" cy="1408.8" r="3.85" fill="#2a00ff"/>
<circle cx="358.5" cy="1393.8" r="3.85" fill="#2a00ff"/>
<circle cx="374.0" cy="1397.5" r="3.85" fill="#2a00ff"/>
<circle cx="377.8" cy="1392.0" r="3.85" fill="#2a00ff"/>
<circle cx="385.8" cy="1444.2" r="3.85" fill="#2a00ff"/>
<circle cx="343.0" cy="1453.2" r="3.85" fill="#2a00ff"/>
<circle cx="357.8" cy="1473.0" r="3.85" fill="#2a00ff"/>
<circle cx="269.0" cy="1454.2" r="3.85" fill="#2a00ff"/>
<circle cx="281.5" cy="1459.8" r="3.85" fill="#2a00ff"/>
<circle cx="269.7" cy="1261.6" r="3.85" fill="#9b1414"/>
<circle cx="276.4" cy="1263.3" r="3.85" fill="#9b1414"/>
<circle cx="477.4" cy="1314.5" r="3.85" fill="#9b1414"/>
<circle cx="454.8" cy="1368.1" r="3.85" fill="#9b1414"/>
<circle cx="491.7" cy="1365.1" r="3.85" fill="#9b1414"/>
<circle cx="441.8" cy="1391.4" r="3.85" fill="#9b1414"/>
<circle cx="427.5" cy="1459.6" r="3.85" fill="#9b1414"/>
<circle cx="583.8" cy="1401.0" r="3.85" fill="#9b1414"/>
<circle cx="121.8" cy="1270.8" r="3.85" fill="#9b1414"/>
<circle cx="191.8" cy="1281.2" r="3.85" fill="#9b1414"/>
<circle cx="223.5" cy="1281.8" r="3.85" fill="#9b1414"/>
<circle cx="236.2" cy="1288.8" r="3.85" fill="#9b1414"/>
<circle cx="120.0" cy="1305.2" r="3.85" fill="#9b1414"/>
<circle cx="260.0" cy="1310.8" r="3.85" fill="#9b1414"/>
<circle cx="129.8" cy="1328.2" r="3.85" fill="#9b1414"/>
<circle cx="219.5" cy="1328.8" r="3.85" fill="#9b1414"/>
<circle cx="230.2" cy="1330.2" r="3.85" fill="#9b1414"/>
<circle cx="158.8" cy="1356.8" r="3.85" fill="#9b1414"/>
<circle cx="261.0" cy="1317.5" r="3.85" fill="#9b1414"/>
<circle cx="354.0" cy="1294.5" r="3.85" fill="#9b1414"/>
<circle cx="354.8" cy="1330.2" r="3.85" fill="#9b1414"/>
<circle cx="329.2" cy="1330.8" r="3.85" fill="#9b1414"/>
<circle cx="296.0" cy="1344.2" r="3.85" fill="#9b1414"/>
<circle cx="404.2" cy="1350.5" r="3.85" fill="#9b1414"/>
<circle cx="400.0" cy="1371.0" r="3.85" fill="#9b1414"/>
<circle cx="349.8" cy="1378.2" r="3.85" fill="#9b1414"/>
<circle cx="355.2" cy="1383.0" r="3.85" fill="#9b1414"/>
<circle cx="334.2" cy="1385.0" r="3.85" fill="#9b1414"/>
<circle cx="319.8" cy="1385.5" r="3.85" fill="#9b1414"/>
<circle cx="134.2" cy="1405.8" r="3.85" fill="#9b1414"/>
<circle cx="383.2" cy="1397.5" r="3.85" fill="#9b1414"/>
<circle cx="399.2" cy="1404.2" r="3.85" fill="#9b1414"/>
<circle cx="415.0" cy="1424.8" r="3.85" fill="#9b1414"/>
<rect x="570" y="1112" width="75.5" height="59" fill="#fff"/>
<rect x="31.2" y="1110.5" width="629.6999999999999" height="424.79999999999995" fill="none" stroke="#000" stroke-width="2.5"/>
<text x="558.6" y="28.1" font-size="20.8" font-family="Liberation Sans, Arial, sans-serif" text-anchor="start" fill="#111" >Actives</text>
<circle cx="550.3" cy="44.6" r="3.85" fill="#2a00ff"/>
<text x="558.4" y="49.6" font-size="16" font-family="Liberation Sans, Arial, sans-serif" text-anchor="start" fill="#111" >Training set</text>
<circle cx="550.3" cy="63.3" r="3.85" fill="#9b1414"/>
<text x="558.3" y="67.5" font-size="16.4" font-family="Liberation Sans, Arial, sans-serif" text-anchor="start" fill="#111" >Test set</text>
<text x="561.3" y="554.9" font-size="19.4" font-family="Liberation Sans, Arial, sans-serif" text-anchor="start" fill="#111" >Decoys</text>
<circle cx="553.5" cy="571" r="3.85" fill="#2a00ff"/>
<text x="561" y="577.4" font-size="16" font-family="Liberation Sans, Arial, sans-serif" text-anchor="start" fill="#111" >Training set</text>
<circle cx="553.5" cy="590" r="3.85" fill="#9b1414"/>
<text x="561" y="595.4" font-size="16.4" font-family="Liberation Sans, Arial, sans-serif" text-anchor="start" fill="#111" >Test set</text>
<circle cx="578" cy="1132.3" r="3.85" fill="#9b1414"/>
<text x="586.6" y="1137.8" font-size="16.3" font-family="Liberation Sans, Arial, sans-serif" text-anchor="start" fill="#111" >Actives</text>
<circle cx="578" cy="1153.6" r="3.85" fill="#2a00ff"/>
<text x="586.4" y="1160.5" font-size="16.3" font-family="Liberation Sans, Arial, sans-serif" text-anchor="start" fill="#111" >Decoys</text>
<text x="4.0" y="16.1" font-size="19.2" font-family="Liberation Sans, Arial, sans-serif" font-weight="bold" text-anchor="start" fill="#111" stroke="#111" stroke-width="0.5">A</text>
<text x="4.9" y="542" font-size="18.9" font-family="Liberation Sans, Arial, sans-serif" font-weight="bold" text-anchor="start" fill="#111" stroke="#111" stroke-width="0.5">B</text>
<text x="4.6" y="1119.7" font-size="18.7" font-family="Liberation Sans, Arial, sans-serif" font-weight="bold" text-anchor="start" fill="#111" stroke="#111" stroke-width="0.5">C</text>
<text x="311" y="495" font-size="15.9" font-family="Liberation Sans, Arial, sans-serif" font-weight="bold" text-anchor="middle" fill="#111" stroke="#111" stroke-width="0.25">Dim 1 (27.52%)</text>
<text x="323" y="1085.4" font-size="16" font-family="Liberation Sans, Arial, sans-serif" font-weight="bold" text-anchor="middle" fill="#111" stroke="#111" stroke-width="0.25">Dim 1 (15.29%)</text>
<text x="318.9" y="1559.1" font-size="16" font-family="Liberation Sans, Arial, sans-serif" font-weight="bold" text-anchor="middle" fill="#111" stroke="#111" stroke-width="0.25">Dim 1 (18.44%)</text>
<text x="0" y="0" font-size="15.8" font-family="Liberation Sans, Arial, sans-serif" font-weight="bold" text-anchor="middle" fill="#111" stroke="#111" stroke-width="0.25" transform="translate(13.8,218.5) rotate(-90)">Dim 2 (10.15%)</text>
<text x="0" y="0" font-size="15.9" font-family="Liberation Sans, Arial, sans-serif" font-weight="bold" text-anchor="middle" fill="#111" stroke="#111" stroke-width="0.25" transform="translate(17.4,800.5) rotate(-90)">Dim 2 (9.07%)</text>
<text x="0" y="0" font-size="15.9" font-family="Liberation Sans, Arial, sans-serif" font-weight="bold" text-anchor="middle" fill="#111" stroke="#111" stroke-width="0.25" transform="translate(15.6,1316.3) rotate(-90)">Dim 2 (8.27%)</text>
</svg>
</body></html>
